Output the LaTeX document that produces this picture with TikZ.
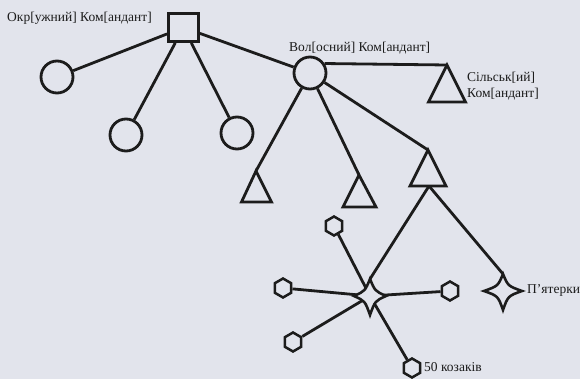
\documentclass[tikz,border=0pt]{standalone}
\usepackage{fontspec}
\setmainfont{Liberation Serif}
\usetikzlibrary{shapes.geometric}
\definecolor{bg}{RGB}{226,228,236}
\definecolor{ink}{RGB}{28,28,28}
\begin{document}
\begin{tikzpicture}[x=1pt,y=-1pt,
  conn/.style={draw=ink, line width=2.8pt},
  shp/.style={draw=ink, line width=2.8pt},
  circ/.style={circle, draw=ink, line width=2.8pt, minimum size=32pt, inner sep=0pt},
  sqr/.style={rectangle, draw=ink, line width=2.8pt, minimum width=30pt, minimum height=28pt, inner sep=0pt},
  hexa/.style={regular polygon, regular polygon sides=6, shape border rotate=30, draw=ink, line width=2.5pt, minimum size=19pt, inner sep=0pt},
  lbl/.style={font=\fontsize{13.5}{16}\selectfont, text=ink, inner sep=0pt, align=left}]
\fill[bg] (0,0) rectangle (580,379);
\useasboundingbox (0,0) rectangle (580,379);

% nodes
\node[sqr] (okr) at (183.5,27.5) {};
\node[circ] (c1) at (57,77) {};
\node[circ] (c2) at (126,135) {};
\node[circ] (c3) at (237,133) {};
\node[circ] (vol) at (310,73) {};

\coordinate (sk) at (447,65);
\coordinate (ta) at (256,171);
\coordinate (tb) at (359,175);
\coordinate (tc) at (428,150);
\coordinate (tcb) at (429,186);

\coordinate (st) at (370,296);
\coordinate (sttop) at (370,279);
\coordinate (p5) at (503,291);
\coordinate (p5top) at (503,274);

\node[hexa] (h1) at (334,226) {};
\node[hexa] (h2) at (283,288) {};
\node[hexa] (h3) at (293,342) {};
\node[hexa] (h4) at (412,368) {};
\node[hexa] (h5) at (450,291) {};

% labels
\node[lbl, anchor=west] (lokr) at (7,18) {Окр[ужний] Ком[андант]};
\node[lbl, anchor=west] (lvol) at (289,48) {Вол[осний] Ком[андант]};
\node[lbl, anchor=west] (lsk) at (467,86) {Сільськ[ий]\\Ком[андант]};
\node[lbl, anchor=west] (lp5) at (527,290) {П'ятерки};
\node[lbl, anchor=west] (l50) at (424,367) {50 козаків};

% connectors
\draw[conn] (okr) -- (c1);
\draw[conn] (okr) -- (c2);
\draw[conn] (okr) -- (c3);
\draw[conn] (okr) -- (vol);
\draw[conn] (vol.33) -- (sk);
\draw[conn] (vol) -- (ta);
\draw[conn] (vol) -- (tb);
\draw[conn] (vol) -- (tc);
\draw[conn] (tcb) -- (sttop);
\draw[conn] (tcb) -- (p5top);
\draw[conn] (h1) -- (st);
\draw[conn] (h2) -- (st);
\draw[conn] (h3) -- (st);
\draw[conn] (h4) -- (st);
\draw[conn] (h5) -- (st);

% triangles
\draw[shp, line join=miter] (sk) -- ++(-18.5,37) -- ++(37,0) -- cycle;
\draw[shp, line join=miter] (ta) -- ++(-14.5,31) -- ++(30,0) -- cycle;
\draw[shp, line join=miter] (tb) -- ++(-16,32) -- ++(33,0) -- cycle;
\draw[shp, line join=miter] (tc) -- ++(-18,36) -- ++(36,0) -- cycle;

% stars
\begin{scope}[shift={(st)}]
\draw[shp, fill=bg, line width=2.6pt] (0,-17) .. controls (5,-5) .. (16,0)
  .. controls (5,5) .. (0,19) .. controls (-5,5) .. (-16,0)
  .. controls (-5,-5) .. cycle;
\end{scope}
\begin{scope}[shift={(p5)}]
\draw[shp, fill=bg, line width=2.6pt] (0,-17) .. controls (5,-5) .. (19,0)
  .. controls (5,5) .. (0,19) .. controls (-5,5) .. (-19,0)
  .. controls (-5,-5) .. cycle;
\end{scope}
\end{tikzpicture}
\end{document}
